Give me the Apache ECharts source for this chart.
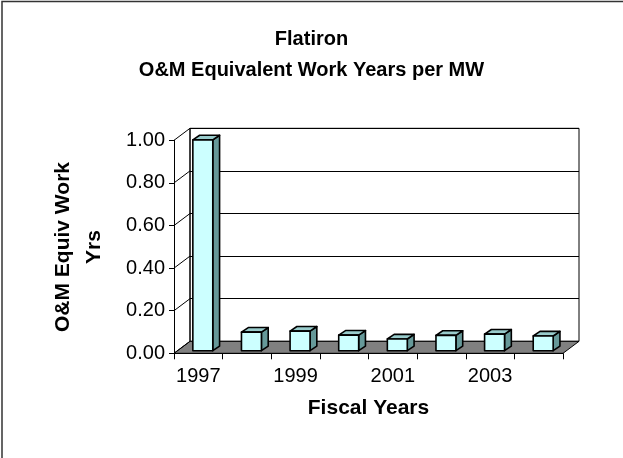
<!DOCTYPE html>
<html>
<head>
<meta charset="utf-8">
<script src="https://cdn.jsdelivr.net/npm/echarts@6/dist/echarts.min.js"></script>
<style>
html,body{margin:0;padding:0;background:#fff;}
#c{width:623px;height:458px;}
</style>
</head>
<body>
<div id="c"></div>
<script>
const categories = ['1997','1998','1999','2000','2001','2002','2003','2004'];
const values = [0.99, 0.087, 0.092, 0.073, 0.055, 0.072, 0.078, 0.069];
const titleLines = ['Flatiron', 'O&M Equivalent Work Years per MW'];
const yAxisTitle = 'O&M Equiv Work\nYrs';
const xAxisTitle = 'Fiscal Years';

// layout (pixels)
const FL = 174, FT = 140.3, FW = 389, FH = 213;
const DX = 16, DY = -12;          // total depth of the 3D box
const BDX = 4.5, BDY = -2.6;      // bar front face depth
const SDX = 6.8, SDY = -4.6;      // bar depth
const FONT = 'Liberation Sans, Arial, sans-serif';

const chart = echarts.init(document.getElementById('c'));

const fb = FT + FH;
const gfx = [
  {type:'rect', shape:{x:2, y:1.5, width:640, height:470}, style:{fill:null, stroke:'#333', lineWidth:1.5}, z:-10},
  {type:'polygon', shape:{points:[[FL,fb],[FL+FW,fb],[FL+FW+DX,fb+DY],[FL+DX,fb+DY]]},
   style:{fill:'#808080', stroke:'#000', lineWidth:1}, z:1},
  {type:'line', shape:{x1:FL+DX, y1:FT+DY, x2:FL+DX, y2:fb+DY}, style:{stroke:'#000', lineWidth:1}, z:1}
];
for (let i = 0; i <= 5; i++) {
  const y = FT + FH * i / 5;
  gfx.push({type:'line', shape:{x1:FL, y1:y, x2:FL+DX, y2:y+DY}, style:{stroke:'#000', lineWidth:1}, z:1});
}
gfx.push({type:'text', x:79, y:247, rotation:Math.PI/2,
  style:{text:yAxisTitle, font:'bold 21px ' + FONT, fill:'#000', align:'center', verticalAlign:'middle', lineHeight:31}, z:5});

chart.setOption({
  animation:false,
  backgroundColor:'#fff',
  title:[
    {text:titleLines[0], left:'center', top:24, textStyle:{fontFamily:FONT, fontSize:20, fontWeight:'bold', color:'#000'}},
    {text:titleLines[1], left:'center', top:55, textStyle:{fontFamily:FONT, fontSize:20, fontWeight:'bold', color:'#000'}}
  ],
  grid:[
    {left:FL, top:FT, width:FW, height:FH},
    {left:FL+DX, top:FT+DY, width:FW, height:FH, show:true, borderColor:'#000', borderWidth:1, backgroundColor:'#fff', z:0}
  ],
  xAxis:[
    {type:'category', gridIndex:0, data:categories, boundaryGap:true,
     name:xAxisTitle, nameLocation:'middle', nameGap:44,
     nameTextStyle:{fontFamily:FONT, fontSize:21, fontWeight:'bold', color:'#000'},
     axisLine:{show:true, lineStyle:{color:'#000', width:1}},
     axisTick:{show:true, length:6, interval:0, lineStyle:{color:'#000'}},
     axisLabel:{interval:1, margin:13, fontFamily:FONT, fontSize:20, color:'#000'},
     z:3},
    {type:'category', gridIndex:1, data:categories, show:false}
  ],
  yAxis:[
    {type:'value', gridIndex:0, min:0, max:1, interval:0.2,
     axisLine:{show:true, lineStyle:{color:'#000', width:1}},
     axisTick:{show:true, length:5, lineStyle:{color:'#000'}},
     axisLabel:{margin:9, fontFamily:FONT, fontSize:20, color:'#000', formatter:v => v.toFixed(2)},
     splitLine:{show:false}, z:3},
    {type:'value', gridIndex:1, min:0, max:1, interval:0.2,
     axisLine:{show:false}, axisTick:{show:false}, axisLabel:{show:false},
     splitLine:{show:true, lineStyle:{color:'#000', width:1}}}
  ],
  graphic:gfx,
  series:[{
    type:'custom', xAxisIndex:0, yAxisIndex:0, z:4,
    data:values.map((v,i)=>[i,v]),
    renderItem:function(params, api){
      const i = api.value(0), v = api.value(1);
      const top = api.coord([i, v]);
      const base = api.coord([i, 0]);
      const w = api.size([1,0])[0] * 0.41;
      const cx = top[0] + BDX;
      const x0 = cx - w/2, x1 = cx + w/2;
      const y0 = top[1] + BDY, y1 = base[1] + BDY;
      const st = {stroke:'#000', lineWidth:1.6, lineJoin:'round'};
      return {type:'group', children:[
        {type:'polygon', shape:{points:[[x1,y0],[x1+SDX,y0+SDY],[x1+SDX,y1+SDY],[x1,y1]]}, style:Object.assign({fill:'#669999'}, st)},
        {type:'polygon', shape:{points:[[x0,y0],[x0+SDX,y0+SDY],[x1+SDX,y0+SDY],[x1,y0]]}, style:Object.assign({fill:'#99CCCC'}, st)},
        {type:'rect', shape:{x:x0, y:y0, width:w, height:y1-y0}, style:Object.assign({fill:'#CCFFFF'}, st)}
      ]};
    }
  }]
});
</script>
</body>
</html>
